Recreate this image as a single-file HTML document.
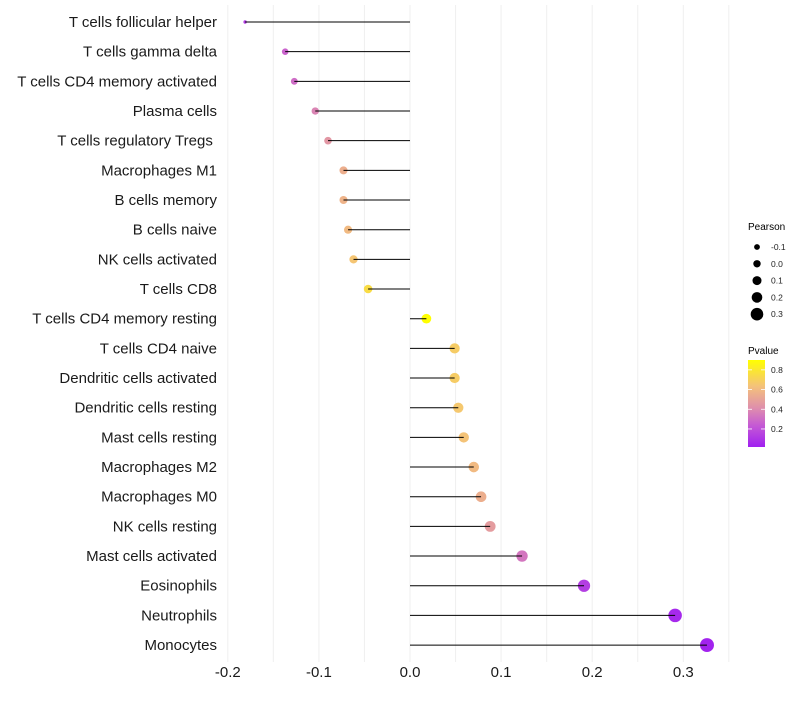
<!DOCTYPE html>
<html><head><meta charset="utf-8"><style>
body{margin:0;background:#fff;font-family:"Liberation Sans",sans-serif;}
</style></head><body>
<svg id="chart" width="800" height="700" xmlns="http://www.w3.org/2000/svg" font-family="Liberation Sans, sans-serif">
<g id="grid"></g>
<g id="marks"></g>
<g id="ylabels"></g>
<g id="xlabels"></g>
<g id="legend">
 <defs><linearGradient id="pg" x1="0" y1="1" x2="0" y2="0">
  <stop offset="0" stop-color="#a020f0"/><stop offset="0.25" stop-color="#c55ad4"/>
  <stop offset="0.45" stop-color="#df8fac"/><stop offset="0.7" stop-color="#f4c27a"/>
  <stop offset="1" stop-color="#ffff00"/></linearGradient></defs>
 <text x="748" y="230" font-size="10">Pearson</text>
 <text x="748" y="354" font-size="10">Pvalue</text>
 <rect x="748" y="360" width="17" height="87" fill="url(#pg)"/>
</g>
</svg>
<script>
const categories=["T cells follicular helper","T cells gamma delta","T cells CD4 memory activated","Plasma cells","T cells regulatory  Tregs\u00a0","Macrophages M1","B cells memory","B cells naive","NK cells activated","T cells CD8","T cells CD4 memory resting","T cells CD4 naive","Dendritic cells activated","Dendritic cells resting","Mast cells resting","Macrophages M2","Macrophages M0","NK cells resting","Mast cells activated","Eosinophils","Neutrophils","Monocytes"];
const pearson=[-0.181,-0.137,-0.127,-0.104,-0.090,-0.073,-0.073,-0.068,-0.062,-0.046,0.018,0.049,0.049,0.053,0.059,0.070,0.078,0.088,0.123,0.191,0.291,0.326];
const pvalue=[0.12,0.27,0.3,0.38,0.45,0.55,0.57,0.6,0.65,0.75,0.9,0.68,0.68,0.66,0.64,0.6,0.55,0.47,0.33,0.13,0.05,0.03];
const xTicks=[-0.2,-0.1,0.0,0.1,0.2,0.3];
const xTickLabels=["-0.2","-0.1","0.0","0.1","0.2","0.3"];
const sizeBreaks=[-0.1,0.0,0.1,0.2,0.3];
const sizeLabels=["-0.1","0.0","0.1","0.2","0.3"];
const pBreaks=[0.2,0.4,0.6,0.8];
const NS="http://www.w3.org/2000/svg";
const X=v=>410+v*911;
const Y=i=>22+i*29.67;
function R(v){let a;if(v<-0.137){a=2.9+(v+0.181)/0.044*8;}else{a=22.1+82*v;}return Math.sqrt(Math.max(2.5,a));}
const stops=[[0,[160,32,240]],[0.25,[197,90,212]],[0.45,[223,143,172]],[0.7,[244,194,122]],[1,[255,255,0]]];
function col(p){let t=(p-0.017)/(0.9-0.017);t=Math.max(0,Math.min(1,t));
 for(let k=1;k<stops.length;k++){if(t<=stops[k][0]){const a=stops[k-1],b=stops[k];const f=(t-a[0])/(b[0]-a[0]);
 return "rgb("+a[1].map((c,j)=>Math.round(c+(b[1][j]-c)*f)).join(",")+")";}}return "rgb(255,255,0)";}
function mk(tag,attrs,parent){const e=document.createElementNS(NS,tag);for(const k in attrs)e.setAttribute(k,attrs[k]);parent.appendChild(e);return e;}
const grid=document.getElementById('grid'),marks=document.getElementById('marks'),yl=document.getElementById('ylabels'),xl=document.getElementById('xlabels'),lg=document.getElementById('legend');
for(let v=-0.2;v<=0.351;v+=0.05){const g=mk('line',{x1:X(v),x2:X(v),y1:5,y2:662,stroke:'#efefef','stroke-width':1},grid);
 
 }
categories.forEach((c,i)=>{
 const d=mk('circle',{cx:X(pearson[i]),cy:Y(i),r:R(pearson[i]),fill:col(pvalue[i])},marks);
 
 
 const l=mk('line',{x1:X(0),x2:X(pearson[i]),y1:Y(i),y2:Y(i),stroke:'#000','stroke-width':1},marks);
 
 
 const t=mk('text',{x:217,y:Y(i)+5,'text-anchor':'end','font-size':15,fill:'#1a1a1a'},yl);t.textContent=c;
 
 
});
xTicks.forEach((v,i)=>{const t=mk('text',{x:X(v),y:677,'text-anchor':'middle','font-size':15,fill:'#1a1a1a'},xl);t.textContent=xTickLabels[i];
 
 });
const legR=[2.9,3.7,4.5,5.3,6.3];
sizeBreaks.forEach((v,i)=>{const y=247+i*16.8;
 const c=mk('circle',{cx:757,cy:y,r:legR[i],fill:'#000'},lg);
 
 
 const t=mk('text',{x:771,y:y+3,'font-size':8.5,fill:'#222'},lg);t.textContent=sizeLabels[i];
 
 });
pBreaks.forEach(v=>{const y=447-(v-0.017)/(0.9-0.017)*87;
 mk('line',{x1:748,x2:752,y1:y,y2:y,stroke:'#fff','stroke-width':0.8},lg);
 mk('line',{x1:761,x2:765,y1:y,y2:y,stroke:'#fff','stroke-width':0.8},lg);
 const t=mk('text',{x:771,y:y+3,'font-size':8.5,fill:'#222'},lg);t.textContent=v.toFixed(1);
 
 });
</script>
</body></html>
